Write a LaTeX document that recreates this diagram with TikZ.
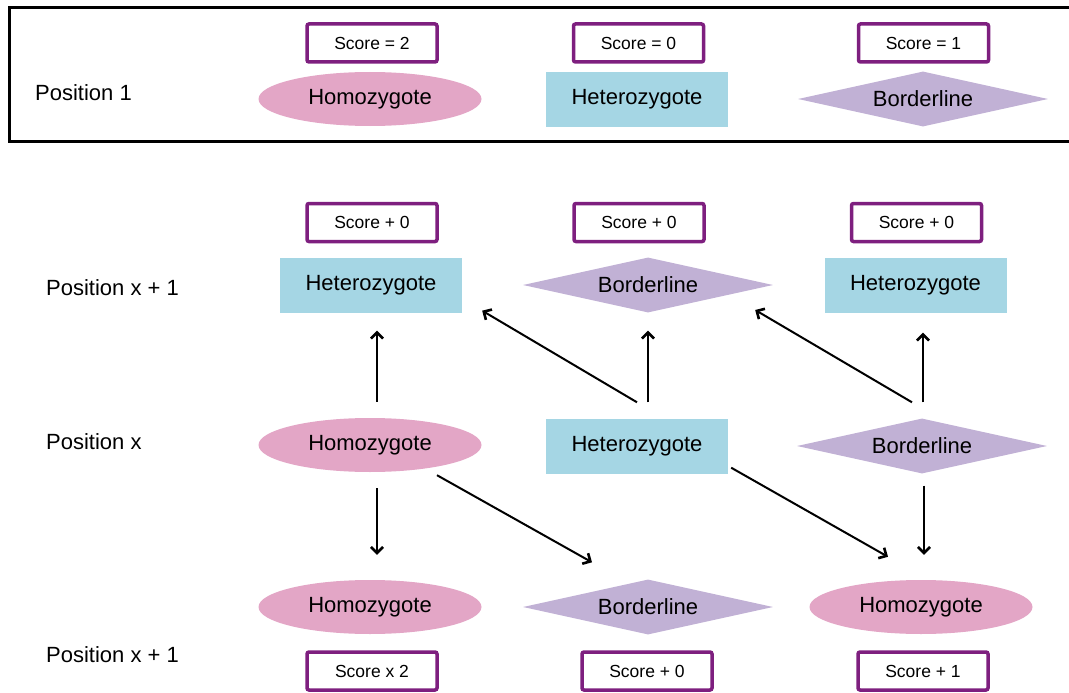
\documentclass[tikz,border=0pt]{standalone}
\usepackage{fontspec}
\setmainfont{Liberation Sans}
\usepackage{xcolor}
\usepackage{tikz}
\usetikzlibrary{arrows.meta,shapes.geometric,calc}
\definecolor{scorepurple}{HTML}{7E1F7F}
\definecolor{homopink}{HTML}{E3A6C6}
\definecolor{heteroblue}{HTML}{A5D6E4}
\definecolor{borderlav}{HTML}{C1B1D5}

\begin{document}
\begin{tikzpicture}[
  x=1pt,y=-1pt,
  font=\fontsize{22}{26}\selectfont,
  score/.style={draw=scorepurple,line width=3.5pt,fill=white,rounded corners=2pt,
                minimum width=130pt,minimum height=38pt,inner sep=0pt,
                font=\fontsize{17.5}{20}\selectfont},
  homo/.style={ellipse,fill=homopink,minimum width=223pt,minimum height=54pt,inner sep=0pt},
  hetero/.style={rectangle,fill=heteroblue,minimum width=182pt,minimum height=55pt,inner sep=0pt},
  border/.style={diamond,fill=borderlav,aspect=4.5,minimum width=250pt,
                 minimum height=55pt,inner sep=0pt},
  lbl/.style={anchor=west,inner sep=0pt},
  arr/.style={-{Straight Barb[length=6pt,width=12pt,line width=2.6pt]},line width=2pt}
]
\useasboundingbox (0,0) rectangle (1069,693);

% ---- position 1
\draw[line width=3pt] (9,7.5) rectangle (1080,141);
\node[lbl] (p1) at (35,93) {Position 1};
\node[score] (s1a) at (372,43) {Score = 2};
\node[score] (s1b) at (638.5,43) {Score = 0};
\node[score] (s1c) at (923.5,43) {Score = 1};
\node[homo] (hom1) at (370,99) {Homozygote};
\node[hetero] (het1) at (637,99.5) {Heterozygote};
\node[border] (bord1) at (923,99) {Borderline};

% ---- position x + 1 (upper)
\node[lbl] (pa) at (46,288) {Position x + 1};
\node[score] (sa1) at (372,222.5) {Score + 0};
\node[score] (sa2) at (639,222.5) {Score + 0};
\node[score] (sa3) at (916.5,222.5) {Score + 0};
\node[hetero] (hetA1) at (371,285) {Heterozygote};
\node[border] (bordA2) at (648,285) {Borderline};
\node[hetero] (hetA3) at (915.5,285) {Heterozygote};

% ---- position x
\node[lbl] (px) at (46,442) {Position x};
\node[homo] (homX1) at (370,445) {Homozygote};
\node[hetero] (hetX2) at (637,446) {Heterozygote};
\node[border] (bordX3) at (922,446) {Borderline};

% ---- position x + 1 (lower)
\node[lbl] (pb) at (46,655) {Position x + 1};
\node[homo] (homB1) at (370,607) {Homozygote};
\node[border] (bordB2) at (648,607) {Borderline};
\node[homo] (homB3) at (921,607) {Homozygote};
\node[score] (sb1) at (372,671) {Score x 2};
\node[score] (sb2) at (647,671) {Score + 0};
\node[score] (sb3) at (923,671) {Score + 1};

% ---- transitions upwards
\draw[arr] ($(homX1.north)+(7,-16)$) -- ($(hetA1.south)+(6,18)$);
\draw[arr] ($(hetX2.north)+(0,-16)$) -- ($(hetA1.south east)+(20,-2)$);
\draw[arr] ($(hetX2.north)+(11,-16)$) -- ($(bordA2.south)+(0,18)$);
\draw[arr] ($(bordX3.north)+(-10,-16)$) -- ($(bordA2.east)+(-18,25)$);
\draw[arr] ($(bordX3.north)+(1,-16)$) -- ($(hetA3.south)+(7.5,20)$);

% ---- transitions downwards
\draw[arr] ($(homX1.south)+(7,16)$) -- ($(homB1.north)+(7,-25)$);
\draw[arr] ($(homX1.south)+(67,3)$) -- ($(bordB2.north)+(-56,-17)$);
\draw[arr] ($(hetX2.south east)+(3,-6)$) -- ($(homB3.north)+(-33,-23)$);
\draw[arr] ($(bordX3.south)+(2,12)$) -- ($(homB3.north)+(3,-25)$);
\end{tikzpicture}
\end{document}
